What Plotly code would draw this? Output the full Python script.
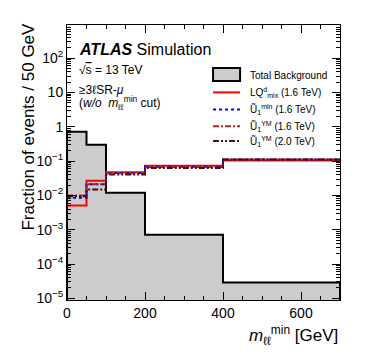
import plotly.graph_objects as go

# bin edges in m_ll^min [GeV]
edges = [0, 50, 100, 200, 400, 700]

# fraction of events / 50 GeV
bkg = [0.72, 0.30, 0.012, 7.1e-4, 2.9e-5]
lq_mix_16 = [0.0051, 0.027, 0.047, 0.073, 0.105]
u1_min_16 = [0.0085, 0.021, 0.045, 0.069, 0.112]
u1_ym_16 = [0.0100, 0.021, 0.044, 0.067, 0.112]
u1_ym_20 = [0.0095, 0.015, 0.041, 0.063, 0.112]

ytick_vals = [1e-5, 1e-4, 1e-3, 1e-2, 1e-1, 1, 10, 100]
ytick_text = ["10<sup>−5</sup>", "10<sup>−4</sup>", "10<sup>−3</sup>", "10<sup>−2</sup>",
              "10<sup>−1</sup>", "1", "10", "10<sup>2</sup>"]

FONT = "Liberation Sans, Arial, sans-serif"


def steps(edges, vals):
    xs, ys = [], []
    for i, v in enumerate(vals):
        xs += [edges[i], edges[i + 1]]
        ys += [v, v]
    return xs, ys


fig = go.Figure()

# background: filled histogram down to below the axis floor
bx, by = steps(edges, bkg)
floor = 1e-7
fig.add_trace(go.Scatter(
    x=[edges[0]] + bx + [edges[-1]], y=[floor] + by + [floor],
    mode="lines", fill="toself", fillcolor="#cccccc",
    line=dict(color="black", width=2), name="Total Background", showlegend=False))

signals = [
    (lq_mix_16, "LQ<sup>d</sup><sub>mix</sub> (1.6 TeV)", "#ff0000", "solid"),
    (u1_min_16, "Ũ<sub>1</sub><sup>min</sup> (1.6 TeV)", "#0000ff", "dot"),
    (u1_ym_16, "Ũ<sub>1</sub><sup>YM</sup> (1.6 TeV)", "#b22222", "6px,2px,2px,2px"),
    (u1_ym_20, "Ũ<sub>1</sub><sup>YM</sup> (2.0 TeV)", "#4b0a0a", "6px,2px,2px,2px,2px,2px"),
]
for vals, name, col, dash in signals:
    sx, sy = steps(edges, vals)
    fig.add_trace(go.Scatter(x=sx, y=sy, mode="lines", name=name, showlegend=False,
                             line=dict(color=col, width=2, dash=dash)))

# hand-made legend (ROOT style)
lx0, lx1, ltext = 0.535, 0.634, 0.663
fig.add_shape(type="rect", xref="paper", yref="paper", x0=lx0, x1=lx1, y0=0.796, y1=0.844,
              fillcolor="#cccccc", line=dict(color="black", width=2))
fig.add_annotation(text="Total Background", xref="paper", yref="paper", x=ltext, y=0.818,
                   showarrow=False, xanchor="left", yanchor="middle", font=dict(size=10))
leg_y = [0.755, 0.693, 0.632, 0.578]
for (vals, name, col, dash), yy in zip(signals, leg_y):
    fig.add_shape(type="line", xref="paper", yref="paper", x0=lx0, x1=lx1, y0=yy, y1=yy,
                  line=dict(color=col, width=2, dash=dash))
    fig.add_annotation(text=name, xref="paper", yref="paper", x=ltext, y=yy,
                       showarrow=False, xanchor="left", yanchor="middle", font=dict(size=10))

minor_y = [m * 10 ** k for k in range(-6, 3) for m in range(2, 10)]

# page body has an 8px margin, so the figure is sized to sit inside it
fig.update_layout(
    width=358, height=343,
    margin=dict(l=59, r=26, t=17, b=51),
    plot_bgcolor="white", paper_bgcolor="white",
    font=dict(family=FONT, color="black", size=14),
    showlegend=False,
)

fig.update_xaxes(
    range=[0, 700], showline=True, linecolor="black", linewidth=1,
    mirror="allticks", ticks="inside", ticklen=8, tickcolor="black",
    tickvals=[0, 200, 400, 600], showgrid=False, zeroline=False,
    minor=dict(ticks="inside", ticklen=4, tickcolor="black", dtick=50, showgrid=False),
    tickfont=dict(size=14),
)
fig.update_yaxes(
    type="log", range=[-5.05, 2.97], showline=True, linecolor="black", linewidth=1,
    mirror="allticks", ticks="inside", ticklen=8, tickcolor="black",
    tickvals=ytick_vals, ticktext=ytick_text, showgrid=False, zeroline=False,
    minor=dict(ticks="inside", ticklen=4, tickcolor="black", tickvals=minor_y, showgrid=False),
    tickfont=dict(size=14),
)

# axis titles
fig.add_annotation(text="Fraction of events / 50 GeV", xref="paper", yref="paper",
                   x=-0.14, y=0.63, textangle=-90, showarrow=False,
                   font=dict(size=17), xanchor="center", yanchor="middle")
fig.add_annotation(text="<i>m</i><sub>ℓℓ</sub><sup>min</sup> [GeV]",
                   xref="paper", yref="paper", x=1.0, y=-0.13, showarrow=False,
                   font=dict(size=17), xanchor="right", yanchor="middle")

# ATLAS labels
fig.add_annotation(text="<b><i>ATLAS</i></b> Simulation", xref="paper", yref="paper",
                   x=0.035, y=0.91, showarrow=False, xanchor="left", yanchor="middle",
                   font=dict(size=16))
fig.add_annotation(text="√<span style='text-decoration:overline'>s</span> = 13 TeV",
                   xref="paper", yref="paper", x=0.035, y=0.836, showarrow=False,
                   xanchor="left", yanchor="middle", font=dict(size=12))
fig.add_annotation(text="≥3ℓSR-<i>μ</i>", xref="paper", yref="paper",
                   x=0.035, y=0.765, showarrow=False, xanchor="left", yanchor="middle",
                   font=dict(size=12))
fig.add_annotation(text="(<i>w/o</i>  <i>m</i><sub>ℓℓ</sub><sup>min</sup> cut)",
                   xref="paper", yref="paper", x=0.035, y=0.718, showarrow=False,
                   xanchor="left", yanchor="middle", font=dict(size=12))

fig.write_html("out.html")
